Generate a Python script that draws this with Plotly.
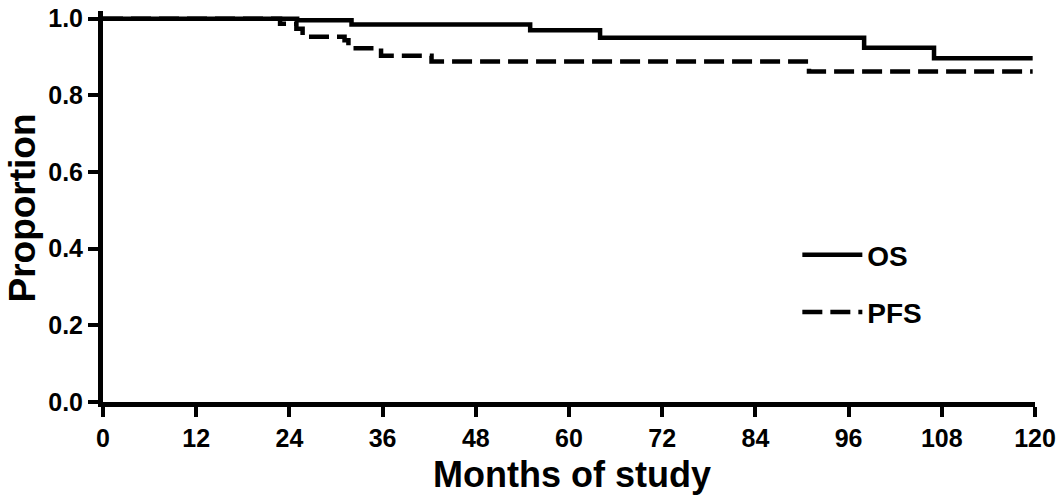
import plotly.graph_objects as go

# Kaplan-Meier step data (months, proportion)
os_months = [0, 25, 32, 55, 64, 98, 107, 119.7]
os_prop = [1.0, 0.996, 0.985, 0.970, 0.950, 0.924, 0.897, 0.897]

pfs_months = [0, 22.8, 24.9, 25.7, 31.1, 31.6, 35.8, 42.3, 90.9, 119.7]
pfs_prop = [1.0, 0.987, 0.974, 0.953, 0.944, 0.923, 0.903, 0.888, 0.862, 0.862]

x_ticks = [0, 12, 24, 36, 48, 60, 72, 84, 96, 108, 120]
y_ticks = [0.0, 0.2, 0.4, 0.6, 0.8, 1.0]
y_tick_labels = ["0.0", "0.2", "0.4", "0.6", "0.8", "1.0"]

FONT = "Liberation Sans, Arial, sans-serif"

fig = go.Figure()
fig.add_trace(go.Scatter(
    x=os_months, y=os_prop, mode="lines", name="OS", legendgroup="os",
    line=dict(color="black", width=4.5, shape="hv"),
))
fig.add_trace(go.Scatter(
    x=pfs_months, y=pfs_prop, mode="lines", name="PFS", legendgroup="pfs",
    line=dict(color="black", width=4.5, shape="hv", dash="20px,8px"),
))

fig.update_layout(
    width=1061, height=499,
    margin=dict(l=103, r=21, t=5, b=97),
    plot_bgcolor="white", paper_bgcolor="white",
    font=dict(family=FONT, color="black", size=25, weight="bold"),
    showlegend=True,
    legend=dict(
        x=0.745, y=0.44, xanchor="left", yanchor="top",
        font=dict(family=FONT, size=28, color="black", weight="bold"),
        itemwidth=60, traceorder="grouped", tracegroupgap=18,
        bgcolor="rgba(0,0,0,0)",
    ),
    xaxis=dict(
        range=[0, 120], tickvals=x_ticks, ticktext=[str(v) for v in x_ticks],
        showline=True, linecolor="black", linewidth=5,
        ticks="outside", ticklen=10, tickwidth=4, tickcolor="black",
        showgrid=False, zeroline=False, ticklabeloverflow="allow",
        tickfont=dict(family=FONT, size=25, color="black", weight="bold"),
    ),
    yaxis=dict(
        range=[0, 1.02], tickvals=y_ticks, ticktext=y_tick_labels,
        showline=True, linecolor="black", linewidth=5,
        ticks="outside", ticklen=10, tickwidth=4, tickcolor="black",
        showgrid=False, zeroline=False, ticklabeloverflow="allow",
        tickfont=dict(family=FONT, size=25, color="black", weight="bold"),
    ),
    annotations=[
        dict(text="Proportion", xref="paper", yref="paper",
             x=-0.0864, y=0.496, xanchor="center", yanchor="middle",
             textangle=-90, showarrow=False,
             font=dict(family=FONT, size=37, color="black", weight="bold")),
        dict(text="Months of study", xref="paper", yref="paper",
             x=0.503, y=-0.186, xanchor="center", yanchor="middle",
             showarrow=False,
             font=dict(family=FONT, size=36, color="black", weight="bold")),
    ],
)

fig.write_html(
    "out.html",
    config={"displayModeBar": False},
    post_script="document.body.style.margin='0';document.body.style.overflow='hidden';",
)
